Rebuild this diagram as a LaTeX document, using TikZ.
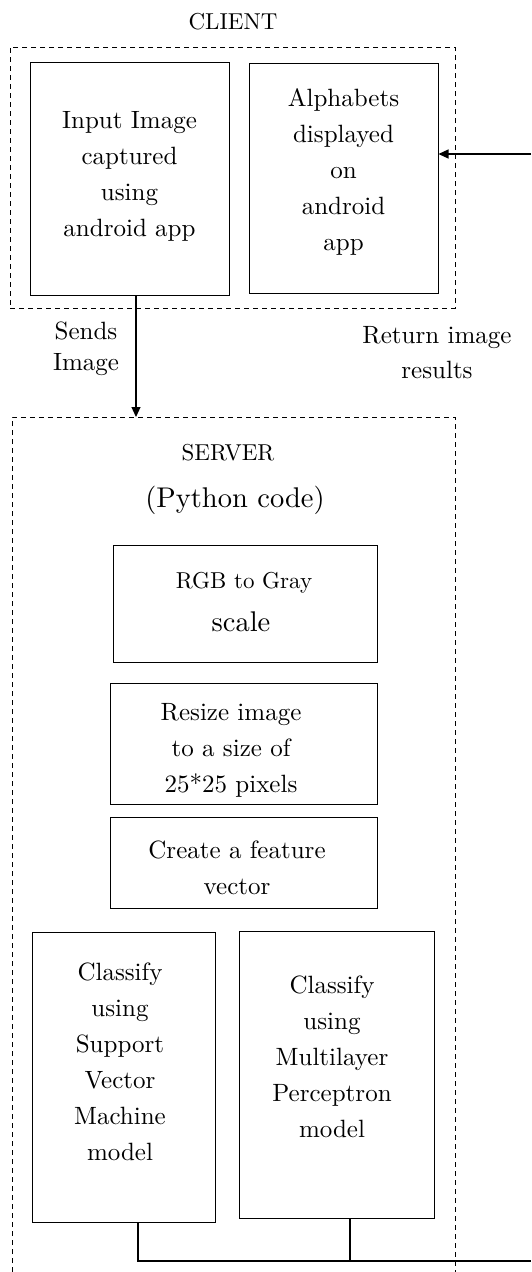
\documentclass[tikz,border=0pt]{standalone}
\usepackage{fontspec}
\setmainfont{lmroman10-regular}[Extension=.otf]
\usetikzlibrary{arrows.meta}
\begin{document}
\begin{tikzpicture}[x=1pt,y=-1pt,
  box/.style={draw,line width=1pt,inner sep=0pt},
  txt/.style={align=center,inner sep=0pt,font=\fontsize{25}{36}\selectfont},
  small/.style={align=center,inner sep=0pt,font=\fontsize{23}{36}\selectfont},
  big/.style={inner sep=0pt,font=\fontsize{28.5}{36}\selectfont},
  frame/.style={line width=0.9pt,dash pattern=on 5pt off 4pt},
  conn/.style={line width=1.2pt},
  arr/.style={line width=1.2pt,-{Triangle[width=9pt,length=10pt]}}]
\useasboundingbox (0,0) rectangle (531,1272);
% client
\node[small] (clientlbl) at (233,22) {CLIENT};
\node[frame,draw,minimum width=445pt,minimum height=261pt,inner sep=0pt] (client) at (232.5,177.5) {};
\node[box,minimum width=199pt,minimum height=233pt] (input) at (129.5,178.5) {};
\node[txt] (inputt) at (129.5,176) {Input Image\\captured\\using\\android app};
\node[box,minimum width=189pt,minimum height=230pt] (alpha) at (343.5,178) {};
\node[txt] (alphat) at (343.5,172) {Alphabets\\displayed\\on\\android\\app};
% labels
\node[txt,font=\fontsize{25}{31}\selectfont] (sends) at (86,349) {Sends\\Image};
\node[txt,font=\fontsize{25}{35}\selectfont] (ret) at (437,353) {Return image\\results};
% server frame
\coordinate (sTL) at (12,417);
\coordinate (sTR) at (455,417);
\coordinate (sBL) at (12,1272);
\coordinate (sBR) at (455,1272);
\draw[frame] (sBL) -- (sTL) -- (sTR) -- (sBR);
\node[small] (server) at (228,453) {SERVER};
\node[big] (python) at (235,500) {(Python code)};
% server boxes
\node[box,minimum width=264pt,minimum height=117pt] (rgb) at (245,603.5) {};
\node[small] (rgbt) at (244,583) {RGB to Gray};
\node[big] (rgbs) at (241,622) {scale};
\node[box,minimum width=267pt,minimum height=121pt] (resize) at (243.5,743.5) {};
\node[txt] (resizet) at (231,750) {Resize image\\to a size of\\25*25 pixels};
\node[box,minimum width=267pt,minimum height=91pt] (feat) at (243.5,862.5) {};
\node[txt] (featt) at (237,868) {Create a feature\\vector};
\node[box,minimum width=183pt,minimum height=290pt] (svm) at (123.5,1077) {};
\node[txt] (svmt) at (120,1062) {Classify\\using\\Support\\Vector\\Machine\\model};
\node[box,minimum width=195pt,minimum height=287pt] (mlp) at (336.5,1074.5) {};
\node[txt] (mlpt) at (332,1057) {Classify\\using\\Multilayer\\Perceptron\\model};
% connectors
\coordinate (down) at (136,417);
\draw[arr] (input.south -| down) -- (down);
\coordinate (rin) at (531,154);
\draw[arr] (rin) -- (rin -| alpha.east);
\coordinate (bout) at (531,1261);
\coordinate (svmx) at (138,0);
\coordinate (mlpx) at (350,0);
\draw[conn] (svm.south -| svmx) |- (bout);
\draw[conn] (mlp.south -| mlpx) -- (bout -| mlpx);
\end{tikzpicture}
\end{document}
